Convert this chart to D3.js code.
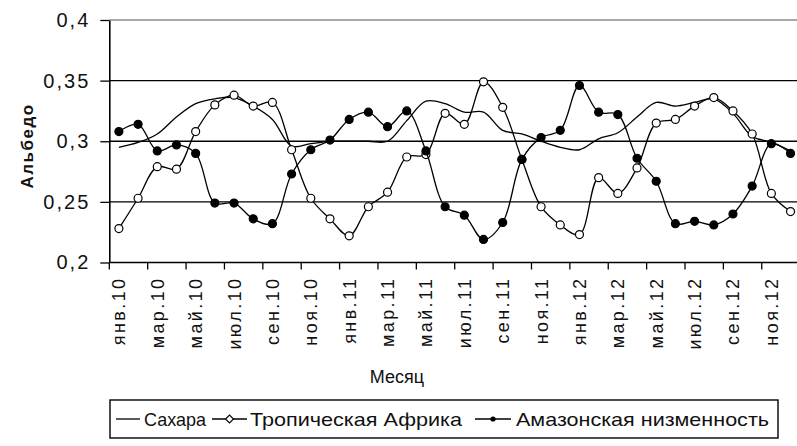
<!DOCTYPE html>
<html>
<head>
<meta charset="utf-8">
<script src="https://cdn.jsdelivr.net/npm/d3@7"></script>
<style>
  html, body { margin: 0; padding: 0; background: #fff; }
  svg { display: block; font-family: "Liberation Sans", Arial, sans-serif; }
</style>
</head>
<body>
<svg id="chart" width="797" height="446"></svg>
<script>
// Monthly categories, January 2010 – December 2012
const categories = [
  "янв.10","фев.10","мар.10","апр.10","май.10","июн.10","июл.10","авг.10","сен.10","окт.10","ноя.10","дек.10",
  "янв.11","фев.11","мар.11","апр.11","май.11","июн.11","июл.11","авг.11","сен.11","окт.11","ноя.11","дек.11",
  "янв.12","фев.12","мар.12","апр.12","май.12","июн.12","июл.12","авг.12","сен.12","окт.12","ноя.12","дек.12"
];

// Albedo per month for each region
const sahara = [0.295,0.299,0.306,0.320,0.331,0.335,0.336,0.329,0.318,0.296,0.298,0.300,
                0.300,0.300,0.300,0.317,0.333,0.331,0.324,0.324,0.309,0.306,0.300,0.295,
                0.293,0.302,0.307,0.320,0.332,0.329,0.332,0.335,0.323,0.304,0.299,0.292];
const tropAfrica = [0.228,0.253,0.279,0.277,0.308,0.330,0.338,0.329,0.332,0.293,0.253,0.236,
                    0.222,0.246,0.258,0.287,0.289,0.323,0.314,0.349,0.328,0.285,0.246,0.231,
                    0.223,0.270,0.257,0.278,0.315,0.318,0.329,0.336,0.325,0.306,0.257,0.242];
const amazon = [0.308,0.314,0.292,0.297,0.290,0.249,0.249,0.236,0.232,0.273,0.293,0.301,
                0.318,0.324,0.312,0.325,0.292,0.246,0.239,0.219,0.233,0.285,0.303,0.309,
                0.346,0.324,0.322,0.286,0.267,0.232,0.234,0.231,0.240,0.263,0.298,0.290];

const yTicks = [0.2, 0.25, 0.3, 0.35, 0.4];
const yTickLabels = ["0,2", "0,25", "0,3", "0,35", "0,4"];
const seriesNames = ["Сахара", "Тропическая Африка", "Амазонская низменность"];

const svg = d3.select("#chart");
const plotLeft = 109.3, plotTop = 20, plotBottom = 262.5, band = 19.19;

const x = d3.scaleBand()
  .domain(categories)
  .range([plotLeft, plotLeft + band * categories.length])
  .paddingInner(0).paddingOuter(0);
const y = d3.scaleLinear().domain([0.2, 0.4]).range([plotBottom, plotTop]);
const cx = c => x(c) + x.bandwidth() / 2;

// Horizontal gridlines
svg.append("g").selectAll("line")
  .data(yTicks.filter(v => v > 0.2))
  .join("line")
  .attr("x1", plotLeft).attr("x2", 800)
  .attr("y1", d => y(d)).attr("y2", d => y(d))
  .attr("stroke", d => d === 0.4 ? "#8c8c8c" : "#000")
  .attr("stroke-width", 1.3);

// Value axis
const yAxis = d3.axisLeft(y).tickValues(yTicks)
  .tickFormat((d, i) => yTickLabels[i]).tickSize(9).tickSizeOuter(0).tickPadding(10);
const gy = svg.append("g").attr("transform", `translate(${plotLeft},0)`).call(yAxis);
gy.select(".domain").attr("stroke", "#000").attr("stroke-width", 1.6);
gy.selectAll(".tick line").attr("stroke", "#000").attr("stroke-width", 1.3);
gy.selectAll(".tick text")
  .attr("font-size", 20).attr("fill", "#111").attr("letter-spacing", 2);

// Category axis: labels on every second month, ticks on band boundaries
const labelled = categories.filter((c, i) => i % 2 === 0);
const xAxis = d3.axisBottom(x).tickValues(labelled).tickSize(0).tickSizeOuter(0);
const gx = svg.append("g").attr("transform", `translate(0,${plotBottom})`).call(xAxis);
gx.select(".domain").remove();
gx.selectAll(".tick text")
  .attr("font-size", 18).attr("fill", "#111").attr("letter-spacing", 2.4)
  .attr("text-anchor", "end")
  .attr("transform", "rotate(-90)")
  .attr("x", -14).attr("y", 0).attr("dy", "0.36em");

svg.append("line")
  .attr("x1", plotLeft).attr("x2", 800)
  .attr("y1", plotBottom).attr("y2", plotBottom)
  .attr("stroke", "#000").attr("stroke-width", 1.6);
svg.append("g").selectAll("line")
  .data(labelled)
  .join("line")
  .attr("x1", d => x(d)).attr("x2", d => x(d))
  .attr("y1", plotBottom).attr("y2", plotBottom + 7)
  .attr("stroke", "#000").attr("stroke-width", 1.3);

// Axis titles
svg.append("text")
  .attr("transform", "translate(33,146) rotate(-90)")
  .attr("text-anchor", "middle")
  .attr("font-size", 17).attr("font-weight", "bold").attr("letter-spacing", 1.5)
  .attr("fill", "#111")
  .text("Альбедо");
svg.append("text")
  .attr("x", 397).attr("y", 383)
  .attr("text-anchor", "middle")
  .attr("font-size", 18).attr("fill", "#111")
  .text("Месяц");

// Series
const line = d3.line()
  .x((d, i) => cx(categories[i]))
  .y(d => y(d))
  .curve(d3.curveCatmullRom.alpha(0.5));

const series = [
  { values: sahara, marker: null },
  { values: tropAfrica, marker: "open" },
  { values: amazon, marker: "filled" }
];

series.forEach(s => {
  svg.append("path")
    .datum(s.values)
    .attr("d", line)
    .attr("fill", "none")
    .attr("stroke", "#000")
    .attr("stroke-width", 1.3);
  if (s.marker) {
    svg.append("g").selectAll("circle")
      .data(s.values)
      .join("circle")
      .attr("cx", (d, i) => cx(categories[i]))
      .attr("cy", d => y(d))
      .attr("r", s.marker === "open" ? 4 : 4)
      .attr("fill", s.marker === "open" ? "#fff" : "#000")
      .attr("stroke", "#000")
      .attr("stroke-width", 1.2);
  }
});

// Legend
const legend = svg.append("g");
legend.append("rect")
  .attr("x", 110).attr("y", 400).attr("width", 668).attr("height", 38)
  .attr("fill", "#fff").attr("stroke", "#000").attr("stroke-width", 1.4);

const legendItems = [
  { name: seriesNames[0], x1: 116, x2: 140, text: 144, len: 62, marker: null },
  { name: seriesNames[1], x1: 212, x2: 247, text: 250, len: 212, marker: "open" },
  { name: seriesNames[2], x1: 475, x2: 511, text: 516, len: 253, marker: "filled" }
];
const ly = 419;
legendItems.forEach(it => {
  legend.append("line")
    .attr("x1", it.x1).attr("x2", it.x2).attr("y1", ly).attr("y2", ly)
    .attr("stroke", "#000").attr("stroke-width", 1.3);
  if (it.marker === "open") {
    const mx = (it.x1 + it.x2) / 2;
    legend.append("path")
      .attr("d", `M${mx - 4},${ly} L${mx},${ly - 4} L${mx + 4},${ly} L${mx},${ly + 4} Z`)
      .attr("fill", "#fff").attr("stroke", "#000").attr("stroke-width", 1.1);
  } else if (it.marker === "filled") {
    legend.append("circle")
      .attr("cx", (it.x1 + it.x2) / 2).attr("cy", ly).attr("r", 2.6)
      .attr("fill", "#000");
  }
  legend.append("text")
    .attr("x", it.text).attr("y", ly).attr("dy", "0.35em")
    .attr("font-size", 19).attr("fill", "#111")
    .attr("textLength", it.len).attr("lengthAdjust", "spacingAndGlyphs")
    .text(it.name);
});
</script>
</body>
</html>
